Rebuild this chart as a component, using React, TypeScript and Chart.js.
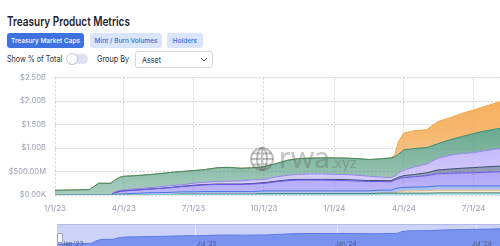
import React, { useEffect, useRef } from 'react';
import { Chart, registerables } from 'chart.js';

Chart.register(...registerables);

const DATES = [
  '2023-01-01', '2023-01-15', '2023-02-01', '2023-02-15', '2023-02-20', '2023-02-27', '2023-03-15', '2023-03-20',
  '2023-03-27', '2023-04-01', '2023-04-15', '2023-05-01', '2023-05-15', '2023-06-01', '2023-06-15', '2023-07-01',
  '2023-07-15', '2023-08-01', '2023-08-15', '2023-09-01', '2023-09-15', '2023-10-01', '2023-10-15', '2023-11-01',
  '2023-11-15', '2023-12-01', '2023-12-15', '2024-01-01', '2024-01-15', '2024-02-01', '2024-02-15', '2024-03-01',
  '2024-03-15', '2024-03-20', '2024-03-25', '2024-04-01', '2024-04-15', '2024-05-01', '2024-05-15', '2024-06-01',
  '2024-06-15', '2024-07-01', '2024-07-15', '2024-08-01', '2024-08-15',
];

// values in $M, bottom of stack first
const TEAL_VALUES = [0, 0, 0, 0, 0, 0, 0, 0, 0, 0, 5, 10, 10, 10, 10, 10, 10, 10, 10, 10, 10, 15, 15, 15, 15, 15, 15, 15, 15, 15, 15, 20, 20, 20, 20, 20, 20, 20, 25, 25, 25, 25, 25, 25, 25];
const DARK_GREEN_VALUES = [0, 0, 0, 0, 0, 0, 0, 0, 0, 0, 0, 0, 0, 0, 8, 8, 8, 8, 8, 8, 8, 12, 12, 12, 12, 12, 12, 12, 12, 12, 12, 18, 18, 18, 18, 18, 18, 18, 18, 18, 18, 18, 18, 18, 18];
const TAN_VALUES = [0, 0, 0, 0, 0, 0, 0, 0, 0, 0, 0, 0, 0, 0, 0, 0, 0, 0, 0, 0, 0, 0, 0, 0, 0, 0, 0, 0, 0, 0, 0, 0, 0, 10, 30, 45, 50, 55, 60, 60, 60, 60, 60, 60, 60];
const BLUE_VALUES = [0, 0, 0, 0, 0, 0, 0, 15, 20, 25, 30, 35, 40, 45, 50, 50, 55, 55, 55, 55, 55, 60, 60, 60, 60, 60, 60, 60, 60, 60, 60, 65, 65, 80, 80, 80, 80, 80, 90, 90, 90, 90, 90, 90, 90];
const PURPLE_VALUES = [0, 0, 0, 0, 0, 0, 0, 30, 55, 60, 65, 75, 85, 100, 110, 130, 140, 150, 150, 150, 160, 160, 190, 220, 230, 230, 230, 225, 220, 210, 200, 185, 180, 190, 200, 210, 220, 240, 260, 270, 275, 280, 290, 300, 300];
const SLATE_VALUES = [0, 0, 0, 0, 0, 0, 0, 5, 5, 5, 5, 5, 5, 5, 5, 10, 10, 10, 10, 10, 10, 15, 15, 15, 15, 15, 15, 20, 20, 20, 20, 20, 20, 25, 30, 40, 50, 60, 80, 90, 100, 110, 115, 120, 120];
const LAVENDER_VALUES = [0, 0, 0, 0, 0, 0, 0, 10, 20, 20, 25, 25, 30, 40, 32, 42, 47, 57, 62, 67, 77, 68, 88, 98, 108, 118, 118, 108, 108, 103, 93, 72, 67, 57, 92, 117, 162, 187, 247, 297, 312, 317, 342, 367, 377];
const GREEN_VALUES = [100, 105, 110, 115, 170, 250, 250, 255, 280, 290, 280, 280, 280, 280, 285, 270, 270, 290, 295, 270, 260, 270, 280, 320, 335, 335, 340, 350, 350, 355, 355, 390, 420, 410, 400, 430, 390, 350, 310, 330, 360, 410, 420, 430, 440];
const ORANGE_VALUES = [0, 0, 0, 0, 0, 0, 0, 0, 0, 0, 0, 0, 0, 0, 0, 0, 0, 0, 0, 0, 0, 0, 0, 0, 0, 0, 0, 0, 0, 0, 0, 0, 0, 40, 270, 360, 380, 380, 470, 470, 490, 500, 520, 560, 580];

const X_TICK_DATES = ['2023-01-01', '2023-04-01', '2023-07-01', '2023-10-01', '2024-01-01', '2024-04-01', '2024-07-01'];
const X_TICK_LABELS = ['1/1/23', '4/1/23', '7/1/23', '10/1/23', '1/1/24', '4/1/24', '7/1/24'];
const Y_TICK_VALUES = [0, 500, 1000, 1500, 2000, 2500];
const Y_TICK_LABELS = ['$0.00K', '$500.00M', '$1.00B', '$1.50B', '$2.00B', '$2.50B'];
const NAV_TICK_DATES = ['2023-07-01', '2024-01-01', '2024-07-01'];
const NAV_LABELS = ["Jan '23", "Jul '23", "Jan '24", "Jul '24"];

const SERIES = [
  { label: 'Teal', values: TEAL_VALUES, border: '#7fcbd2', fill: [166, 221, 225] },
  { label: 'Dark Green', values: DARK_GREEN_VALUES, border: '#2f6756', fill: [77, 126, 109] },
  { label: 'Tan', values: TAN_VALUES, border: '#dcbd8a', fill: [236, 213, 173] },
  { label: 'Blue', values: BLUE_VALUES, border: '#4a73e0', fill: [100, 135, 234] },
  { label: 'Purple', values: PURPLE_VALUES, border: '#6a58ee', fill: [128, 113, 242] },
  { label: 'Slate', values: SLATE_VALUES, border: '#3e4d78', fill: [84, 99, 140] },
  { label: 'Lavender', values: LAVENDER_VALUES, border: '#9886f2', fill: [180, 165, 248] },
  { label: 'Green', values: GREEN_VALUES, border: '#3d8a6e', fill: [82, 155, 127] },
  { label: 'Orange', values: ORANGE_VALUES, border: '#f0a444', fill: [244, 170, 84] },
];

const BASE = Date.UTC(2023, 0, 1);
function dayOf(s: string): number {
  const [y, m, d] = s.split('-').map(Number);
  return Math.round((Date.UTC(y, m - 1, d) - BASE) / 86400000);
}
const X_MAX = 592;
const FONT = 'Inter, "Noto Sans", sans-serif';

const watermark = {
  id: 'watermark',
  afterDatasetsDraw(chart: any) {
    const ctx = chart.ctx;
    ctx.save();
    const cx = 262, cy = 95, r = 11;
    ctx.strokeStyle = 'rgba(105,105,105,0.42)';
    ctx.lineWidth = 2;
    ctx.beginPath(); ctx.arc(cx, cy, r, 0, Math.PI * 2); ctx.stroke();
    ctx.beginPath(); ctx.ellipse(cx, cy, r * 0.45, r, 0, 0, Math.PI * 2); ctx.stroke();
    ctx.beginPath();
    ctx.moveTo(cx - r, cy); ctx.lineTo(cx + r, cy);
    ctx.moveTo(cx, cy - r); ctx.lineTo(cx, cy + r);
    ctx.moveTo(cx - r * 0.85, cy - r * 0.5); ctx.lineTo(cx + r * 0.85, cy - r * 0.5);
    ctx.moveTo(cx - r * 0.85, cy + r * 0.5); ctx.lineTo(cx + r * 0.85, cy + r * 0.5);
    ctx.stroke();
    ctx.fillStyle = 'rgba(105,105,105,0.38)';
    ctx.textBaseline = 'alphabetic';
    ctx.font = '400 31px Lato, sans-serif';
    ctx.fillText('rwa', 279, 104);
    ctx.font = '400 15px Lato, sans-serif';
    ctx.fillText('.xyz', 331, 104);
    ctx.restore();
  },
};

function gradientFill(rgb: number[]) {
  return (context: any) => {
    const { chart } = context;
    const area = chart.chartArea;
    const solid = `rgb(${rgb[0]},${rgb[1]},${rgb[2]})`;
    if (!area) return solid;
    const g = chart.ctx.createLinearGradient(0, area.top, 0, area.bottom);
    g.addColorStop(0, `rgba(${rgb[0]},${rgb[1]},${rgb[2]},1)`);
    g.addColorStop(0.45, `rgba(${rgb[0]},${rgb[1]},${rgb[2]},0.85)`);
    g.addColorStop(1, `rgba(${rgb[0]},${rgb[1]},${rgb[2]},0.5)`);
    return g;
  };
}

function MainChart() {
  const ref = useRef<HTMLCanvasElement>(null);
  useEffect(() => {
    const datasets = SERIES.map((s, i) => ({
      label: s.label,
      data: DATES.map((d, j) => ({ x: dayOf(d), y: s.values[j] })),
      borderColor: s.border,
      backgroundColor: gradientFill(s.fill),
      borderWidth: 1,
      pointRadius: 0,
      tension: 0,
      fill: i === 0 ? 'origin' : '-1',
    }));
    const chart = new Chart(ref.current!, {
      type: 'line',
      data: { datasets } as any,
      plugins: [watermark],
      options: {
        responsive: false,
        maintainAspectRatio: false,
        animation: false,
        layout: { padding: { top: 7, left: 0, right: 0, bottom: 0 } },
        plugins: { legend: { display: false }, tooltip: { enabled: false } },
        scales: {
          x: {
            type: 'linear',
            min: 0,
            max: X_MAX,
            afterBuildTicks: (s: any) => { s.ticks = X_TICK_DATES.map((d) => ({ value: dayOf(d) })); },
            afterFit: (s: any) => { s.height = 25; },
            ticks: {
              autoSkip: false,
              maxRotation: 0,
              padding: 9,
              color: '#9aa1b2',
              font: { size: 8, family: FONT },
              callback: (v: any) => {
                const i = X_TICK_DATES.findIndex((d) => dayOf(d) === v);
                return i >= 0 ? X_TICK_LABELS[i] : '';
              },
            },
            grid: { color: '#cfd1d6', drawTicks: false },
            border: { display: false, dash: [2, 2] },
          },
          y: {
            stacked: true,
            min: 0,
            max: 2500,
            afterBuildTicks: (s: any) => { s.ticks = Y_TICK_VALUES.map((v) => ({ value: v })); },
            afterFit: (s: any) => { s.width = 55; },
            ticks: {
              padding: 9,
              color: '#9aa1b2',
              font: { size: 7.6, family: FONT },
              callback: (v: any) => {
                const i = Y_TICK_VALUES.indexOf(v);
                return i >= 0 ? Y_TICK_LABELS[i] : '';
              },
            },
            grid: { color: '#cfd1d6', drawTicks: false },
            border: { display: false, dash: [2, 2] },
          },
        },
      } as any,
    });
    return () => chart.destroy();
  }, []);
  return <canvas ref={ref} width={508} height={156} style={{ position: 'absolute', left: 0, top: 64, width: 508, height: 156 }} />;
}

function NavChart() {
  const ref = useRef<HTMLCanvasElement>(null);
  useEffect(() => {
    const totals = DATES.map((_, j) => SERIES.reduce((acc, s) => acc + s.values[j], 0));
    const chart = new Chart(ref.current!, {
      type: 'line',
      data: {
        datasets: [{
          data: DATES.map((d, j) => ({ x: dayOf(d), y: totals[j] })),
          borderColor: '#5d7be8',
          backgroundColor: '#7a93ee',
          borderWidth: 1,
          pointRadius: 0,
          tension: 0,
          fill: 'start',
        }],
      } as any,
      options: {
        responsive: false,
        maintainAspectRatio: false,
        animation: false,
        layout: { padding: 0 },
        plugins: { legend: { display: false }, tooltip: { enabled: false } },
        scales: {
          x: {
            type: 'linear', min: 0, max: X_MAX - 2,
            afterBuildTicks: (s: any) => { s.ticks = NAV_TICK_DATES.map((d) => ({ value: dayOf(d) })); },
            afterFit: (s: any) => { s.height = 0; },
            ticks: { display: false },
            grid: { color: 'rgba(255,255,255,0.55)', drawTicks: false },
            border: { display: false },
          },
          y: { type: 'logarithmic', min: 68, max: 4200, display: false },
        },
      } as any,
    });
    return () => chart.destroy();
  }, []);
  return <canvas ref={ref} width={453} height={21} style={{ position: 'absolute', left: 0, top: 0, width: 453, height: 21 }} />;
}

const btn = (left: number, width: number, active: boolean): React.CSSProperties => ({
  position: 'absolute', left, top: 33, width, height: 15, borderRadius: 3,
  background: active ? '#3d72e0' : '#d8e5fb', color: active ? '#ffffff' : '#3b6ad6',
  fontSize: 6.5, fontWeight: 500, display: 'flex', alignItems: 'center', justifyContent: 'center',
  fontFamily: FONT, whiteSpace: 'nowrap',
});

const squeeze = (left: number, top: number, size: number, sx: number): React.CSSProperties => ({
  position: 'absolute', left, top, fontSize: size, lineHeight: '12px', color: '#2a2f3a',
  whiteSpace: 'nowrap', transform: `scaleX(${sx})`, transformOrigin: 'left center',
});

export default function App() {
  const navLabelX = [62, 197, 335, 472];
  return (
    <div style={{ position: 'fixed', left: 0, top: 0, width: 500, height: 246, overflow: 'hidden', background: '#ffffff', fontFamily: FONT }}>
      <div style={{ position: 'absolute', left: 7, top: 15, fontSize: 12.5, lineHeight: '13px', fontWeight: 600, color: '#1d2230', whiteSpace: 'nowrap', transform: 'scaleX(0.8)', transformOrigin: 'left center' }}>
        Treasury Product Metrics
      </div>
      <div style={btn(7, 77, true)}>Treasury Market Caps</div>
      <div style={btn(90, 72, false)}>Mint / Burn Volumes</div>
      <div style={btn(167, 36, false)}>Holders</div>

      <div style={squeeze(7, 53, 8.5, 0.84)}>Show % of Total</div>
      <div style={{ position: 'absolute', left: 67, top: 54, width: 21, height: 10, borderRadius: 5, background: '#dde2f3' }}>
        <div style={{ position: 'absolute', left: -1, top: -1, width: 10, height: 10, borderRadius: 6, background: '#ffffff', border: '1px solid #c3c7d2' }} />
      </div>
      <div style={squeeze(97, 53, 8.5, 0.86)}>Group By</div>
      <div style={{ position: 'absolute', left: 135, top: 51, width: 76, height: 15, border: '1px solid #d3d6de', borderRadius: 3, background: '#fff' }}>
        <div style={squeeze(6, 2, 8, 0.9)}>Asset</div>
        <svg width="8" height="6" style={{ position: 'absolute', left: 64, top: 5 }}>
          <path d="M1 1 L4 4 L7 1" stroke="#444" strokeWidth="1" fill="none" />
        </svg>
      </div>

      <MainChart />

      <div style={{ position: 'absolute', left: 57, top: 224, width: 460, height: 30, background: '#ccd3f7', borderTop: '1px solid #b4bce4' }}>
        <NavChart />
        {NAV_LABELS.map((l, i) => (
          <div key={l} style={{ position: 'absolute', left: navLabelX[i] - 57, top: 15, fontSize: 6, lineHeight: '7px', color: '#4f5a85', whiteSpace: 'nowrap' }}>{l}</div>
        ))}
        <div style={{ position: 'absolute', left: 0, top: 8, width: 4, height: 8, background: '#f4f5fa', border: '1px solid #9aa0b5', borderRadius: 1 }} />
      </div>
    </div>
  );
}
